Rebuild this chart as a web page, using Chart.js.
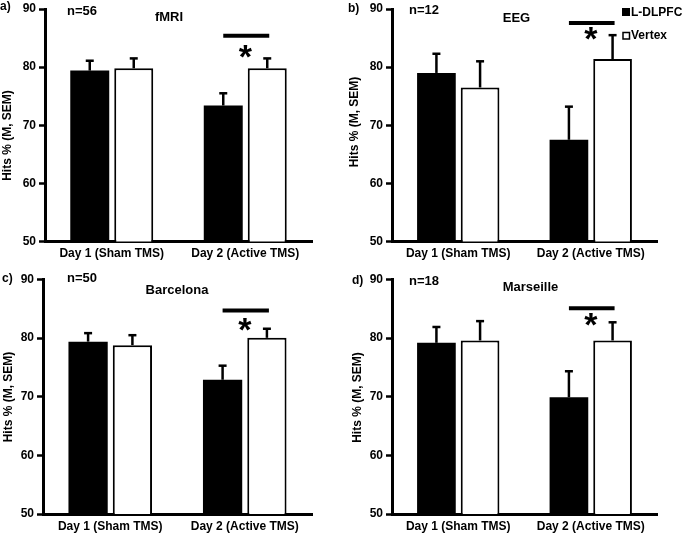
<!DOCTYPE html>
<html>
<head>
<meta charset="utf-8">
<title>Hits % by TMS site</title>
<script src="https://cdn.jsdelivr.net/npm/chart.js@4.4.1/dist/chart.umd.min.js"></script>
<style>
  html, body { margin: 0; padding: 0; background: #fff; }
  #figure { position: relative; width: 685px; height: 535px; }
  #figure canvas { position: absolute; }
</style>
</head>
<body>
<div id="figure">
  <canvas id="panelA" width="342" height="267" style="left:0;top:0"></canvas>
  <canvas id="panelB" width="343" height="267" style="left:342px;top:0"></canvas>
  <canvas id="panelC" width="342" height="268" style="left:0;top:267px"></canvas>
  <canvas id="panelD" width="343" height="268" style="left:342px;top:267px"></canvas>
</div>
<script>
const FONT = "'Liberation Sans', Arial, sans-serif";
Chart.defaults.font.family = FONT;
Chart.defaults.color = "#000";

// ---- data ----
const categories   = ["Day 1 (Sham TMS)", "Day 2 (Active TMS)"];
const seriesNames  = ["L-DLPFC", "Vertex"];
const panelLetters = ["a)", "b)", "c)", "d)"];
const panelTitles  = ["fMRI", "EEG", "Barcelona", "Marseille"];
const sampleSizes  = ["n=56", "n=12", "n=50", "n=18"];
const yTitle       = "Hits % (M, SEM)";
const yTicks       = [50, 60, 70, 80, 90];

const dlpfcMeans  = [[79.4, 73.4], [79.0, 67.5], [79.4, 72.9], [79.2, 69.9]];
const dlpfcSems   = [[1.7, 2.1],   [3.3, 5.7],   [1.45, 2.4],  [2.7, 4.45]];
const vertexMeans = [[79.8, 79.8], [76.5, 81.4], [78.8, 80.05], [79.6, 79.6]];
const vertexSems  = [[1.7, 1.7],   [4.5, 4.1],   [1.7, 1.55],  [3.3, 3.1]];

// significance bar and asterisk heights (axis units)
const sigLevels  = [85.4, 87.6, 84.7, 85.1];
const starLevels = [82.5, 85.6, 82.1, 83.0];

// ---- layout of each panel (canvas px) ----
const panels = [
    { id: "panelA", area: { left: 45, top: 6.5, right: 312, bottom: 241.5 },
      letter: [0, 7], n: [82, 11], title: [169, 17.5], yLab: [8, 135.5] },
    { id: "panelB", area: { left: 50, top: 6.5, right: 315, bottom: 241.5 },
      letter: [6, 9], n: [82, 10.5], title: [174.5, 18], yLab: [13, 122], legend: true },
    { id: "panelC", area: { left: 43, top: 12.5, right: 312, bottom: 247 },
      letter: [2, 12], n: [82, 11.5], title: [177, 23], yLab: [8.5, 130] },
    { id: "panelD", area: { left: 50, top: 12.5, right: 315, bottom: 247 },
      letter: [10, 14], n: [82, 14], title: [188.5, 20], yLab: [16, 130.5] }
];

function line(ctx, x1, y1, x2, y2, w) {
    ctx.lineWidth = w;
    ctx.beginPath();
    ctx.moveTo(x1, y1);
    ctx.lineTo(x2, y2);
    ctx.stroke();
}

const panelDecor = {
    id: "panelDecor",
    afterDatasetsDraw(chart, args, opts) {
        const i = opts.index;
        const ctx = chart.ctx;
        const ys = chart.scales.y;
        ctx.save();
        ctx.strokeStyle = "#000";
        ctx.fillStyle = "#000";

        // error bars (upper half only)
        const groups = [[dlpfcMeans[i], dlpfcSems[i]], [vertexMeans[i], vertexSems[i]]];
        groups.forEach((g, d) => {
            chart.getDatasetMeta(d).data.forEach((bar, j) => {
                const top = ys.getPixelForValue(g[0][j] + g[1][j]);
                line(ctx, bar.x, bar.y, bar.x, top, 2.5);
                line(ctx, bar.x - 4, top, bar.x + 4, top, 2.5);
            });
        });

        // significance bar + asterisk over Day 2
        const xa = chart.getDatasetMeta(0).data[1].x;
        const xb = chart.getDatasetMeta(1).data[1].x;
        const sy = ys.getPixelForValue(sigLevels[i]);
        line(ctx, xa, sy, xb + 2, sy, 4);

        const st = ys.getPixelForValue(starLevels[i]);
        ctx.font = "bold 34px " + FONT;
        ctx.textAlign = "center";
        ctx.textBaseline = "alphabetic";
        ctx.fillText("*", (xa + xb) / 2, st + 15);
        ctx.restore();
    },
    afterDraw(chart, args, opts) {
        const i = opts.index;
        const p = panels[i];
        const ctx = chart.ctx;
        ctx.save();
        ctx.fillStyle = "#000";
        ctx.textBaseline = "middle";

        ctx.font = "bold 12px " + FONT;
        ctx.textAlign = "left";
        ctx.fillText(panelLetters[i], p.letter[0], p.letter[1]);

        ctx.font = "bold 13px " + FONT;
        ctx.textAlign = "center";
        ctx.fillText(sampleSizes[i], p.n[0], p.n[1]);
        ctx.fillText(panelTitles[i], p.title[0], p.title[1]);

        // y axis title
        ctx.font = "bold 12px " + FONT;
        ctx.save();
        ctx.translate(p.yLab[0], p.yLab[1]);
        ctx.rotate(-Math.PI / 2);
        ctx.fillText(yTitle, 0, 0);
        ctx.restore();

        // legend (panel b only)
        if (p.legend) {
            ctx.textAlign = "left";
            ctx.fillRect(280, 8, 8, 8);
            ctx.fillText(seriesNames[0], 289, 12.5);
            ctx.strokeStyle = "#000";
            ctx.lineWidth = 1.5;
            ctx.strokeRect(281, 32.5, 6.5, 6.5);
            ctx.fillText(seriesNames[1], 289, 36);
        }
        ctx.restore();
    }
};

panels.forEach((p, i) => {
    const canvas = document.getElementById(p.id);
    const W = canvas.width, H = canvas.height;
    new Chart(canvas, {
        type: "bar",
        data: {
            labels: categories,
            datasets: [
                { label: seriesNames[0], data: dlpfcMeans[i],
                  backgroundColor: "#000", borderColor: "#000", borderWidth: 0 },
                { label: seriesNames[1], data: vertexMeans[i],
                  backgroundColor: "#fff", borderColor: "#000", borderWidth: 2 }
            ]
        },
        options: {
            responsive: false,
            animation: false,
            devicePixelRatio: 1,
            categoryPercentage: 0.659,
            barPercentage: 0.886,
            layout: { padding: { left: 0, top: p.area.top, right: W - p.area.right, bottom: 0 } },
            plugins: {
                legend: { display: false },
                tooltip: { enabled: false },
                panelDecor: { index: i }
            },
            scales: {
                x: {
                    grid: { display: false, drawTicks: false },
                    border: { display: true, color: "#000", width: 3 },
                    ticks: { font: { size: 12, weight: "bold" }, color: "#000", padding: 5 },
                    afterFit: (s) => { s.height = H - p.area.bottom; }
                },
                y: {
                    min: yTicks[0],
                    max: yTicks[yTicks.length - 1],
                    afterBuildTicks: (s) => { s.ticks = yTicks.map(v => ({ value: v })); },
                    grid: { drawOnChartArea: false, drawTicks: true, tickLength: 6,
                            tickWidth: 2.5, tickColor: "#000", color: "#000" },
                    border: { display: true, color: "#000", width: 3 },
                    ticks: { font: { size: 12, weight: "bold", lineHeight: 1 }, color: "#000", padding: 3 },
                    afterFit: (s) => { s.width = p.area.left; }
                }
            }
        },
        plugins: [panelDecor]
    });
});
</script>
</body>
</html>
